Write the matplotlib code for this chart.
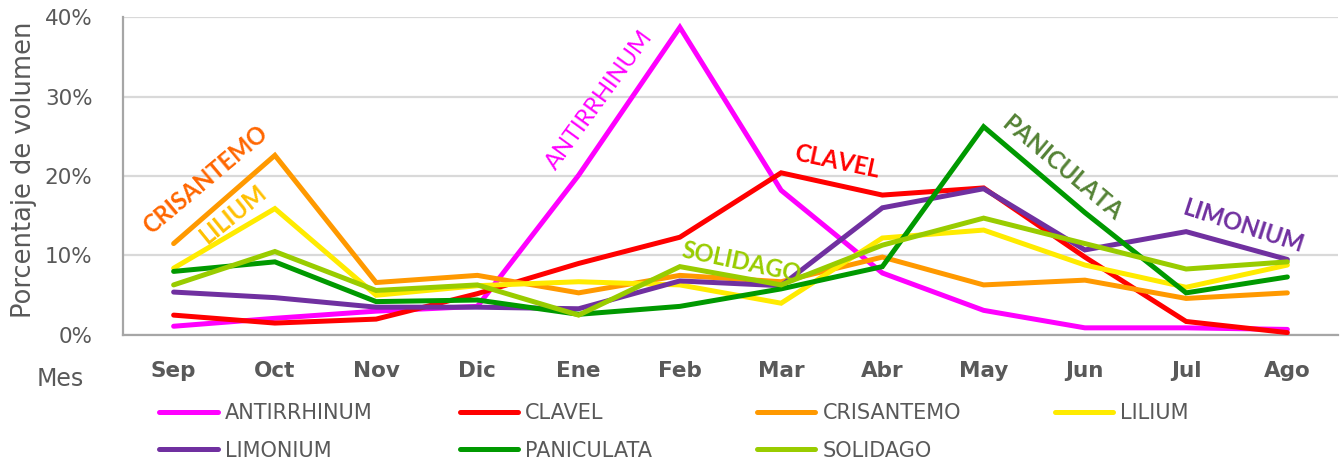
import matplotlib
matplotlib.use("Agg")
import matplotlib.pyplot as plt
from matplotlib.ticker import FuncFormatter

months = ["Sep", "Oct", "Nov", "Dic", "Ene", "Feb", "Mar", "Abr", "May", "Jun", "Jul", "Ago"]

antirrhinum = [1.1, 2.1, 3.0, 3.6, 20.1, 38.7, 18.2, 7.8, 3.1, 0.9, 0.9, 0.7]
clavel = [2.5, 1.5, 2.0, 5.2, 9.0, 12.3, 20.4, 17.6, 18.5, 9.8, 1.7, 0.3]
crisantemo = [11.5, 22.6, 6.6, 7.5, 5.3, 7.5, 6.7, 9.8, 6.3, 6.9, 4.6, 5.3]
lilium = [8.4, 15.9, 5.0, 6.2, 6.7, 6.3, 4.0, 12.2, 13.2, 8.8, 6.0, 8.8]
limonium = [5.4, 4.7, 3.5, 3.5, 3.3, 6.8, 6.2, 16.0, 18.4, 10.7, 13.0, 9.5]
paniculata = [8.0, 9.2, 4.2, 4.4, 2.6, 3.6, 5.8, 8.6, 26.2, 15.4, 5.3, 7.3]
solidago = [6.3, 10.5, 5.6, 6.3, 2.5, 8.6, 6.3, 11.3, 14.7, 11.5, 8.3, 9.2]

series = [
    ("ANTIRRHINUM", antirrhinum, "#FF00FF"),
    ("CLAVEL", clavel, "#FF0000"),
    ("CRISANTEMO", crisantemo, "#FF9900"),
    ("LILIUM", lilium, "#FFEB00"),
    ("LIMONIUM", limonium, "#7030A0"),
    ("PANICULATA", paniculata, "#009900"),
    ("SOLIDAGO", solidago, "#99CC00"),
]

# in-chart labels: text, x (month index), y (%), rotation, colour, weight
labels = [
    ("CRISANTEMO", 0.31, 19.5, 40, "#FF6600", "bold"),
    ("LILIUM", 0.58, 15.2, 39, "#FFC000", "bold"),
    ("ANTIRRHINUM", 4.21, 29.6, 54, "#FF00FF", "normal"),
    ("CLAVEL", 6.55, 21.8, -12, "#FF0000", "bold"),
    ("SOLIDAGO", 5.61, 9.2, -12, "#99CC00", "bold"),
    ("PANICULATA", 8.77, 21.0, -40, "#548235", "bold"),
    ("LIMONIUM", 10.56, 13.7, -18, "#7030A0", "bold"),
]

# legend layout: one column per group, left edge in figure fraction
legend_cols = [
    (["ANTIRRHINUM", "LIMONIUM"], 0.119),
    (["CLAVEL", "PANICULATA"], 0.343),
    (["CRISANTEMO", "SOLIDAGO"], 0.565),
    (["LILIUM"], 0.787),
]

grey = "#595959"

fig = plt.figure(figsize=(13.4, 4.62), dpi=100)
ax = fig.add_axes([0.0918, 0.2749, 0.9067, 0.6883])

x = list(range(len(months)))
lines = {}
for name, vals, col in series:
    ln, = ax.plot(x, vals, color=col, lw=3.6, solid_capstyle="round",
                  solid_joinstyle="miter", label=name, zorder=3)
    lines[name] = ln

ax.set_xlim(-0.5, len(months) - 0.5)
ax.set_ylim(0, 40)
ax.set_yticks([0, 10, 20, 30, 40])
ax.yaxis.set_major_formatter(FuncFormatter(lambda v, p: f"{v:.0f}%"))
ax.set_xticks(x)
ax.set_xticklabels(months, fontweight="bold")
ax.tick_params(axis="both", length=0, colors=grey, labelsize=15.5)
ax.tick_params(axis="x", pad=19)
ax.tick_params(axis="y", pad=22)
ax.grid(axis="y", color="#D9D9D9", lw=1.6)
ax.set_axisbelow(True)
for s in ["top", "right"]:
    ax.spines[s].set_visible(False)
for s in ["left", "bottom"]:
    ax.spines[s].set_color("#A6A6A6")
    ax.spines[s].set_linewidth(1.6)

ax.set_ylabel("Porcentaje de volumen", color=grey, fontsize=18.5)
ax.yaxis.set_label_coords(-0.071, 0.52)
fig.text(0.045, 0.18, "Mes", color=grey, fontsize=17, ha="center", va="center")

for txt, lx, ly, rot, col, wt in labels:
    ax.text(lx, ly, txt, rotation=rot, color=col,
            fontweight=wt, fontsize=17, family="Lato",
            ha="center", va="center", rotation_mode="anchor")

for names, lx in legend_cols:
    leg = fig.legend([lines[n] for n in names], names, ncol=1,
                     loc="upper left", bbox_to_anchor=(lx, 0.128),
                     frameon=False, fontsize=15, handlelength=2.8,
                     handletextpad=0.35, labelspacing=0.85,
                     borderpad=0, borderaxespad=0)
    for t in leg.get_texts():
        t.set_color(grey)

fig.savefig("out.png", dpi=100)
